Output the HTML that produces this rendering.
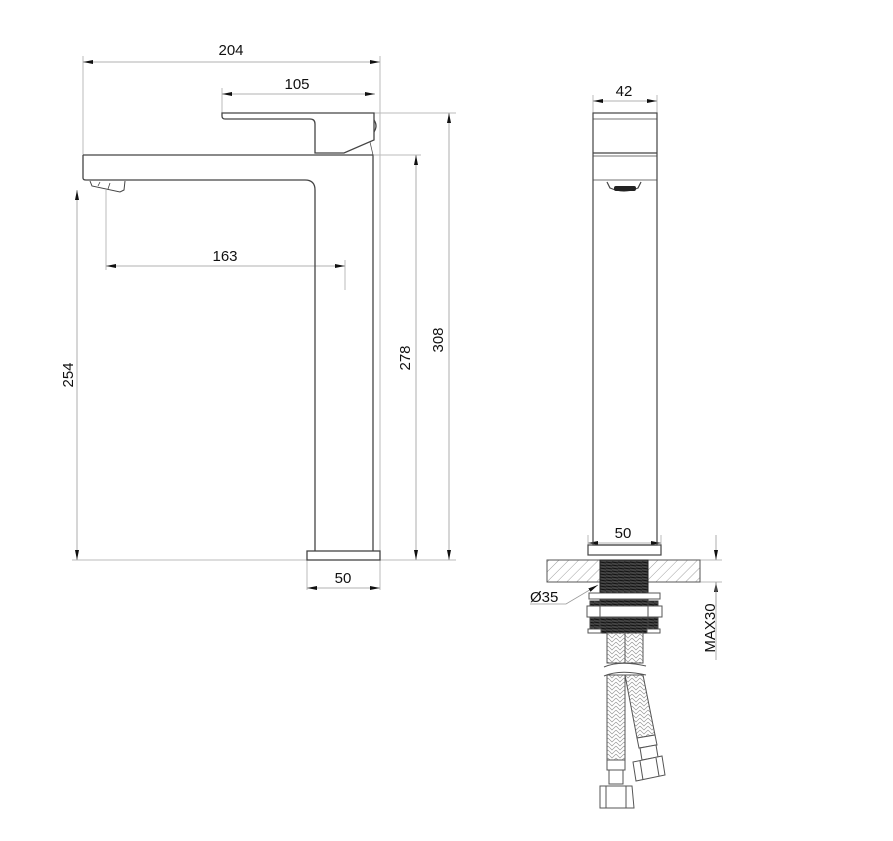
<!DOCTYPE html>
<html><head><meta charset="utf-8"><style>
html,body{margin:0;padding:0;background:#fff}
svg{display:block}
text{font-family:"Liberation Sans",sans-serif;font-size:15px;fill:#111}
</style></head><body>
<svg width="893" height="841" viewBox="0 0 893 841" xmlns="http://www.w3.org/2000/svg">
<defs>
<marker id="a" viewBox="0 0 10 4" refX="10" refY="2" markerWidth="10" markerHeight="4" orient="auto-start-reverse" markerUnits="userSpaceOnUse"><path d="M0,0L10,2L0,4z" fill="#111"/></marker>
<pattern id="h" width="7" height="7" patternUnits="userSpaceOnUse" patternTransform="rotate(45)"><line x1="0" y1="0" x2="0" y2="7" stroke="#888" stroke-width="0.8"/></pattern>
<pattern id="br" width="8" height="8" patternUnits="userSpaceOnUse"><path d="M0,2L4,6L8,2M0,6L4,10L8,6M0,-2L4,2L8,-2" fill="none" stroke="#999" stroke-width="0.7"/></pattern>
<pattern id="th" width="6" height="3" patternUnits="userSpaceOnUse"><rect width="6" height="3" fill="#444"/><line x1="0" y1="1" x2="6" y2="2" stroke="#111" stroke-width="1"/></pattern>
</defs>
<g stroke="#bbb" stroke-width="1" fill="none">
<!-- extension lines -->
<line x1="83" y1="56" x2="83" y2="155"/>
<line x1="380" y1="56" x2="380" y2="590"/>
<line x1="222" y1="88" x2="222" y2="113"/>
<line x1="374" y1="113" x2="456" y2="113"/>
<line x1="374" y1="155" x2="421" y2="155"/>
<line x1="72" y1="560" x2="456" y2="560"/>
<line x1="307" y1="560" x2="307" y2="590"/>
<line x1="106" y1="190" x2="106" y2="270"/>
<line x1="345" y1="260" x2="345" y2="290"/>
<line x1="593" y1="95" x2="593" y2="113"/>
<line x1="657" y1="95" x2="657" y2="113"/>
<line x1="588" y1="535" x2="588" y2="545"/>
<line x1="661" y1="535" x2="661" y2="545"/>
<line x1="700" y1="560" x2="722" y2="560"/>
<line x1="700" y1="582" x2="722" y2="582"/>
</g>
<g stroke="#999" stroke-width="0.8" fill="none">
<line x1="83" y1="62" x2="380" y2="62" marker-start="url(#a)" marker-end="url(#a)"/>
<line x1="222" y1="94" x2="375" y2="94" marker-start="url(#a)" marker-end="url(#a)"/>
<line x1="106" y1="266" x2="345" y2="266" marker-start="url(#a)" marker-end="url(#a)"/>
<line x1="77" y1="190" x2="77" y2="560" marker-start="url(#a)" marker-end="url(#a)"/>
<line x1="416" y1="155" x2="416" y2="560" marker-start="url(#a)" marker-end="url(#a)"/>
<line x1="449" y1="113" x2="449" y2="560" marker-start="url(#a)" marker-end="url(#a)"/>
<line x1="307" y1="588" x2="380" y2="588" marker-start="url(#a)" marker-end="url(#a)"/>
<line x1="593" y1="101" x2="657" y2="101" marker-start="url(#a)" marker-end="url(#a)"/>
<line x1="588" y1="543" x2="661" y2="543" marker-start="url(#a)" marker-end="url(#a)"/>
<line x1="716" y1="535" x2="716" y2="560" marker-end="url(#a)"/>
<line x1="716" y1="607" x2="716" y2="582" marker-end="url(#a)"/>
<line x1="716" y1="582" x2="716" y2="660"/>
<polyline points="530,604 566,604 598,585" marker-end="url(#a)"/>
</g>
<!-- side view -->
<g stroke="#444" stroke-width="1.3" fill="none">
<path d="M222,113 L374,113 L374,140 L344,153 L315,153 L315,124 Q315,119 310,119 L225,119 Q222,119 222,116 Z"/>
<path d="M374,120 Q378,126 374,132"/>
<path d="M370,142 L373,155" stroke-width="0.7"/>
<path d="M83,155 L373,155 L373,551"/>
<path d="M83,155 L83,178 Q83,180 86,180 L305,180 Q315,180 315,190 L315,551"/>
<rect x="307" y="551" width="73" height="9"/>
<path d="M90,181 L92,186 L120,192 L124,190 L125,181" stroke-width="1"/>
<path d="M100,182 L98,186 M110,183 L108,189" stroke-width="0.8"/>
</g>
<!-- front view -->
<g stroke="#444" stroke-width="1.2" fill="none">
<rect x="593" y="113" width="64" height="432"/>
<line x1="593" y1="119" x2="657" y2="119" stroke-width="0.8"/>
<line x1="593" y1="153" x2="657" y2="153"/>
<line x1="593" y1="156" x2="657" y2="156" stroke-width="0.8"/>
<line x1="593" y1="180" x2="657" y2="180" stroke-width="0.8"/>
<path d="M607,182 L610,188 Q624,194 638,188 L641,182"/>
<rect x="588" y="545" width="73" height="10"/>
</g>
<rect x="614" y="186" width="22" height="5" rx="2" fill="#222"/>
<rect x="547" y="560" width="53" height="22" fill="url(#h)" stroke="#555"/>
<rect x="648" y="560" width="52" height="22" fill="url(#h)" stroke="#555"/>
<rect x="600" y="560" width="48" height="73" fill="url(#th)" stroke="#222"/>
<rect x="589" y="593" width="71" height="6" fill="#fff" stroke="#555"/>
<rect x="590" y="601" width="10" height="30" fill="url(#th)" stroke="#444"/>
<rect x="648" y="601" width="10" height="30" fill="url(#th)" stroke="#444"/>
<rect x="587" y="606" width="75" height="11" fill="#fff" stroke="#555"/>
<rect x="600" y="606" width="48" height="11" fill="#fff" stroke="#555"/>
<rect x="588" y="629" width="13" height="4" fill="#fff" stroke="#555"/>
<rect x="647" y="629" width="13" height="4" fill="#fff" stroke="#555"/>
<!-- hoses -->
<g stroke="#555" stroke-width="1">
<rect x="607" y="633" width="18" height="30" fill="url(#br)"/>
<rect x="625" y="633" width="18" height="30" fill="url(#br)"/>
<path d="M604,667 Q620,660 646,666" fill="none"/>
<path d="M604,676 Q620,669 646,675" fill="none"/>
<rect x="607" y="675" width="18" height="85" fill="url(#br)"/>
<path d="M625,675 L643,675 L645,740 L656,737 L646,675" fill="none" stroke="none"/>
<path d="M625,675 L643,675 L655,735 L637,738 Z" fill="url(#br)"/>
<rect x="607" y="760" width="18" height="10" fill="#fff"/>
<rect x="609" y="770" width="14" height="14" fill="#fff"/>
<path d="M600,786 L632,786 L634,808 L600,808 Z" fill="#fff"/>
<line x1="606" y1="786" x2="606" y2="808"/><line x1="626" y1="786" x2="626" y2="808"/>
<path d="M637,738 L655,735 L657,745 L639,748 Z" fill="#fff"/>
<path d="M640,748 L656,745 L658,757 L642,760 Z" fill="#fff"/>
<path d="M633,762 L662,756 L665,775 L636,781 Z" fill="#fff"/>
<line x1="640" y1="761" x2="643" y2="780"/><line x1="656" y1="758" x2="659" y2="776"/>
</g>
<!-- text -->
<text x="231" y="55" text-anchor="middle">204</text>
<text x="297" y="89" text-anchor="middle">105</text>
<text x="225" y="261" text-anchor="middle">163</text>
<text x="343" y="583" text-anchor="middle">50</text>
<text x="624" y="96" text-anchor="middle">42</text>
<text x="623" y="538" text-anchor="middle">50</text>
<text x="530" y="602">Ø35</text>
<text transform="translate(73,375) rotate(-90)" text-anchor="middle">254</text>
<text transform="translate(410,358) rotate(-90)" text-anchor="middle">278</text>
<text transform="translate(443,340) rotate(-90)" text-anchor="middle">308</text>
<text transform="translate(715,628) rotate(-90)" text-anchor="middle">MAX30</text>
</svg>
</body></html>
